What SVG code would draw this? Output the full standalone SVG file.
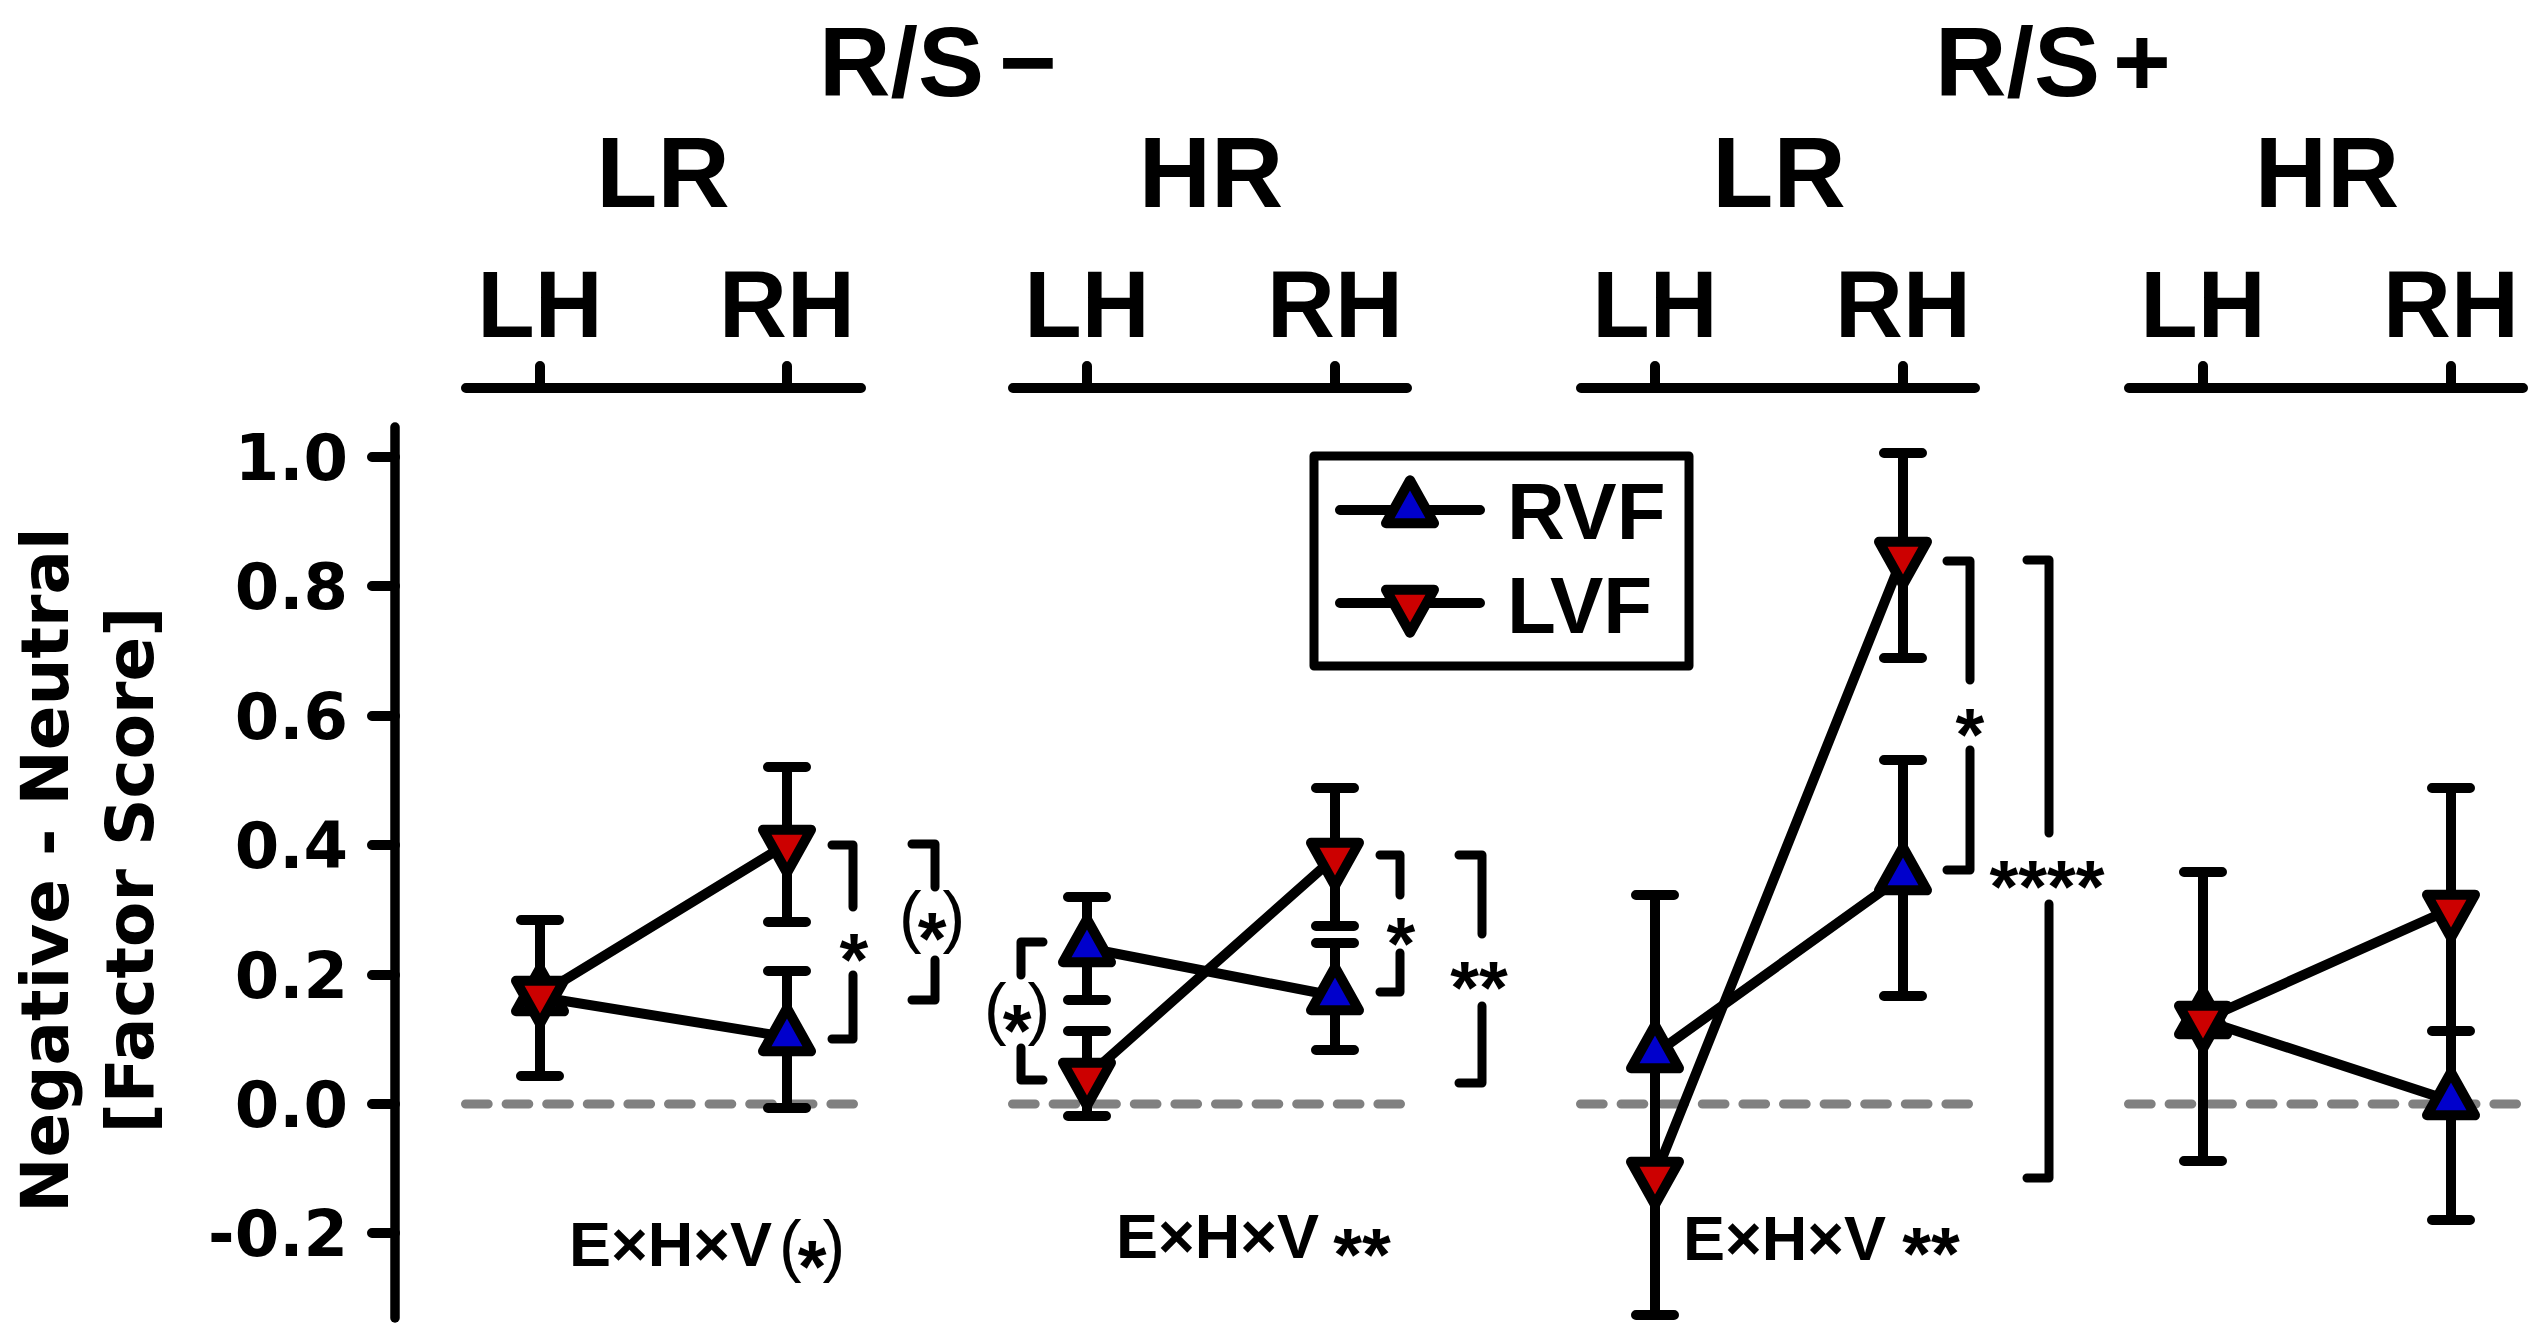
<svg xmlns="http://www.w3.org/2000/svg" xmlns:xlink="http://www.w3.org/1999/xlink" width="2533" height="1323" viewBox="0 0 2533 1323">
<style>
.t{font-family:"Liberation Sans",Arial,sans-serif;font-weight:bold;fill:#000}
.r{font-family:"Liberation Sans",Arial,sans-serif;font-weight:normal;fill:#000}
.d{font-family:"DejaVu Sans",Verdana,sans-serif;font-weight:bold;fill:#000}
.ax{stroke:#000;stroke-width:10;stroke-linecap:round;fill:none}
.ln{stroke:#000;stroke-width:10;stroke-linecap:round;fill:none}
.eb{stroke:#000;stroke-width:10;stroke-linecap:round;fill:none}
.zero{stroke:#808080;stroke-width:9;stroke-dasharray:22.7 17.9;stroke-linecap:round;fill:none}
.br{stroke:#000;stroke-width:9;stroke-linecap:round;stroke-linejoin:round;fill:none}
.rvf{fill:#0000cc;stroke:#000;stroke-width:10;stroke-linejoin:round}
.lvf{fill:#cc0000;stroke:#000;stroke-width:10;stroke-linejoin:round}
.ast{font-family:"Liberation Sans",Arial,sans-serif;font-weight:bold;font-size:74px;text-anchor:middle}
.pa{font-family:"Liberation Sans",Arial,sans-serif;font-weight:normal;font-size:68px}
.pa tspan.s{font-weight:bold;font-size:74px}
</style>
<defs>
<path id="up" d="M0,-28.7L24,14.3L-24,14.3Z"/>
<path id="dn" d="M0,28.7L24,-14.3L-24,-14.3Z"/>
</defs>
<rect width="2533" height="1323" fill="#fff"/>

<g id="titles">
<text class="t" x="819" y="96" font-size="99">R/S<tspan x="999">−</tspan></text>
<text class="t" x="1935" y="96" font-size="99">R/S<tspan x="2113">+</tspan></text>
<g font-size="100" text-anchor="middle">
<text class="t" x="663" y="207">LR</text>
<text class="t" x="1211" y="207">HR</text>
<text class="t" x="1779" y="207">LR</text>
<text class="t" x="2327" y="207">HR</text>
</g>
<g font-size="94" text-anchor="middle">
<text class="t" x="540" y="337">LH</text>
<text class="t" x="787" y="337">RH</text>
<text class="t" x="1087" y="337">LH</text>
<text class="t" x="1335" y="337">RH</text>
<text class="t" x="1655" y="337">LH</text>
<text class="t" x="1903" y="337">RH</text>
<text class="t" x="2203" y="337">LH</text>
<text class="t" x="2451" y="337">RH</text>
</g>
</g>

<g id="group-axes">
<path class="ax" d="M466,388H861M540,388V366M787,388V366"/>
<path class="ax" d="M1013,388H1407M1087,388V366M1335,388V366"/>
<path class="ax" d="M1581,388H1975M1655,388V366M1903,388V366"/>
<path class="ax" d="M2129,388H2523M2203,388V366M2451,388V366"/>
</g>

<g id="y-axis">
<path d="M395,427V1318" stroke="#000" stroke-width="9.5" stroke-linecap="round"/>
<path class="ax" d="M372,457H395M372,586H395M372,716H395M372,845H395M372,975H395M372,1104H395M372,1233H395"/>
<g font-size="64" text-anchor="end">
<text class="d" x="348" y="480">1.0</text>
<text class="d" x="348" y="609">0.8</text>
<text class="d" x="348" y="739">0.6</text>
<text class="d" x="348" y="868">0.4</text>
<text class="d" x="348" y="998">0.2</text>
<text class="d" x="348" y="1127">0.0</text>
<text class="d" x="348" y="1256">-0.2</text>
</g>
<text class="d" font-size="66" text-anchor="middle" transform="translate(68,870) rotate(-90)">Negative - Neutral</text>
<text class="d" font-size="66" text-anchor="middle" transform="translate(153,870) rotate(-90)">[Factor Score]</text>
</g>

<g id="zero-lines">
<path class="zero" d="M465.5,1104H853.5"/>
<path class="zero" d="M1012.5,1104H1400.5"/>
<path class="zero" d="M1580.5,1104H1968.5"/>
<path class="zero" d="M2128.5,1104H2516.5"/>
</g>

<g id="connectors">
<path class="ln" d="M540,997L787,1037"/>
<path class="ln" d="M540,995L787,844"/>
<path class="ln" d="M1087,948L1335,996"/>
<path class="ln" d="M1087,1077L1335,857"/>
<path class="ln" d="M1655,1054L1903,876"/>
<path class="ln" d="M1655,1176L1903,556"/>
<path class="ln" d="M2203,1020L2451,1101"/>
<path class="ln" d="M2203,1020L2451,909"/>
</g>

<g id="g1-lh-rvf"><path class="eb" d="M540,920V1076M521,920H559M521,1076H559"/><use xlink:href="#up" x="540" y="997" class="rvf"/></g>
<g id="g1-rh-rvf"><path class="eb" d="M787,971V1108M768,971H806M768,1108H806"/><use xlink:href="#up" x="787" y="1037" class="rvf"/></g>
<g id="g2-lh-rvf"><path class="eb" d="M1087,897V1000M1068,897H1106M1068,1000H1106"/><use xlink:href="#up" x="1087" y="948" class="rvf"/></g>
<g id="g2-rh-rvf"><path class="eb" d="M1335,943V1050M1316,943H1354M1316,1050H1354"/><use xlink:href="#up" x="1335" y="996" class="rvf"/></g>
<g id="g3-lh-rvf"><path class="eb" d="M1655,895V1315M1636,895H1674M1636,1315H1674"/><use xlink:href="#up" x="1655" y="1054" class="rvf"/></g>
<g id="g3-rh-rvf"><path class="eb" d="M1903,760V996M1884,760H1922M1884,996H1922"/><use xlink:href="#up" x="1903" y="876" class="rvf"/></g>
<g id="g4-lh-rvf"><path class="eb" d="M2203,872V1161M2184,872H2222M2184,1161H2222"/><use xlink:href="#up" x="2203" y="1020" class="rvf"/></g>
<g id="g4-rh-rvf"><path class="eb" d="M2451,1031V1220M2432,1220H2470"/><use xlink:href="#up" x="2451" y="1101" class="rvf"/></g>

<g id="g1-lh-lvf"><use xlink:href="#dn" x="540" y="995" class="lvf"/></g>
<g id="g1-rh-lvf"><path class="eb" d="M787,767V922M768,767H806M768,922H806"/><use xlink:href="#dn" x="787" y="844" class="lvf"/></g>
<g id="g2-lh-lvf"><path class="eb" d="M1087,1031V1116M1068,1031H1106M1068,1116H1106"/><use xlink:href="#dn" x="1087" y="1077" class="lvf"/></g>
<g id="g2-rh-lvf"><path class="eb" d="M1335,788V926M1316,788H1354M1316,926H1354"/><use xlink:href="#dn" x="1335" y="857" class="lvf"/></g>
<g id="g3-lh-lvf"><use xlink:href="#dn" x="1655" y="1176" class="lvf"/></g>
<g id="g3-rh-lvf"><path class="eb" d="M1903,453V658M1884,453H1922M1884,658H1922"/><use xlink:href="#dn" x="1903" y="556" class="lvf"/></g>
<g id="g4-lh-lvf"><use xlink:href="#dn" x="2203" y="1020" class="lvf"/></g>
<g id="g4-rh-lvf"><path class="eb" d="M2451,788V1031M2432,788H2470M2432,1031H2470"/><use xlink:href="#dn" x="2451" y="909" class="lvf"/></g>

<g id="legend">
<rect x="1314" y="456" width="375" height="210" fill="#fff" stroke="#000" stroke-width="9" stroke-linejoin="round"/>
<path class="ln" d="M1340,510H1480M1340,603H1480"/>
<use xlink:href="#up" x="1410" y="509" class="rvf"/>
<use xlink:href="#dn" x="1410" y="604" class="lvf"/>
<text class="t" x="1507" y="539" font-size="80">RVF</text>
<text class="t" x="1507" y="633" font-size="80">LVF</text>
</g>

<g id="significance">
<path class="br" d="M832,845H853V907M853,975V1039H832"/>
<text class="ast" x="854" y="985">*</text>
<path class="br" d="M912,844H935V887M935,960V1000H912"/>
<text class="pa" x="899" y="940">(<tspan class="s" dx="-4" dy="24">*</tspan><tspan dx="-4" dy="-24">)</tspan></text>
<path class="br" d="M1043,942H1021V975M1021,1048V1080H1043"/>
<text class="pa" x="984" y="1032">(<tspan class="s" dx="-4" dy="24">*</tspan><tspan dx="-4" dy="-24">)</tspan></text>
<path class="br" d="M1380,855H1400V895M1400,953V992H1380"/>
<text class="ast" x="1401" y="969">*</text>
<path class="br" d="M1459,855H1482V934M1482,1006V1083H1459"/>
<text class="ast" x="1479" y="1013">**</text>
<path class="br" d="M1947,561H1970V680M1970,750V870H1947"/>
<text class="ast" x="1970" y="760">*</text>
<path class="br" d="M2027,560H2049V833M2049,904V1178H2027"/>
<text class="ast" x="2047" y="912">****</text>
</g>

<g id="interaction-labels">
<text class="t" x="569" y="1266" font-size="63">E×H×V</text>
<text class="pa" x="779" y="1269">(<tspan class="s" dx="-4" dy="23">*</tspan><tspan dx="-4" dy="-23">)</tspan></text>
<text class="t" x="1116" y="1258" font-size="63">E×H×V</text>
<text class="ast" x="1362" y="1280">**</text>
<text class="t" x="1683" y="1260" font-size="63">E×H×V</text>
<text class="ast" x="1931" y="1279">**</text>
</g>
</svg>
